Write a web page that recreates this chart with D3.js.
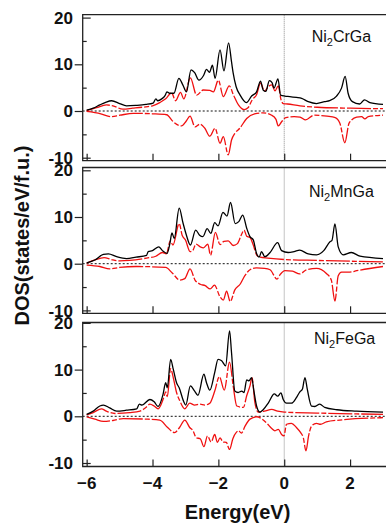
<!DOCTYPE html>
<html><head><meta charset="utf-8">
<script src="https://cdn.jsdelivr.net/npm/d3@7"></script>
<style>html,body{margin:0;padding:0;background:#fff;} svg{display:block;}</style>
</head><body><svg id="c" width="386" height="524"></svg>
<script>
// ---------------- data (energy eV, DOS states/eV/f.u.) ----------------
const energyTicks = [-6, -4, -2, 0, 2];
const dosLabelTicks = [20, 10, 0, -10];
const dosOutTicks = [10, 0];
const dosInTicks = [20, -10];
const dosMinorTicks = [15, 5, -5];
const compoundBase = "Ni";
const compoundSub = "2";
const compoundRest = ["CrGa", "MnGa", "FeGa"];
const xLabel = "Energy(eV)";
const yLabel = "DOS(states/eV/f.u.)";

const crTotalUp = [[-6.0,0.2],[-5.8,0.6],[-5.6,1.3],[-5.44,1.8],[-5.24,2.2],[-5.0,1.6],[-4.79,1.1],[-4.5,1.2],[-4.2,1.4],[-3.98,1.7],[-3.9,2.6],[-3.84,2.2],[-3.72,2.6],[-3.62,3.3],[-3.56,4.1],[-3.48,3.8],[-3.35,3.8],[-3.2,7.0],[-3.08,5.6],[-2.97,4.1],[-2.83,8.8],[-2.72,8.2],[-2.59,6.6],[-2.45,7.6],[-2.36,8.9],[-2.27,8.3],[-2.18,9.8],[-2.1,7.0],[-1.95,13.1],[-1.83,8.6],[-1.69,14.6],[-1.6,10.5],[-1.55,8.1],[-1.46,5.2],[-1.34,3.4],[-1.15,1.8],[-0.99,3.2],[-0.84,4.1],[-0.72,6.4],[-0.64,4.5],[-0.56,4.2],[-0.45,6.5],[-0.37,6.1],[-0.31,4.9],[-0.19,6.9],[-0.11,3.4],[0.02,3.2],[0.17,3.1],[0.37,2.9],[0.53,2.7],[0.73,2.0],[0.98,1.6],[1.23,2.0],[1.38,2.2],[1.59,3.2],[1.74,4.9],[1.85,7.4],[1.94,3.8],[2.07,2.0],[2.29,1.5],[2.44,2.4],[2.6,1.8],[3.0,1.4]];
const crPartUp = [[-6.0,0.1],[-5.7,0.7],[-5.4,1.3],[-5.2,1.1],[-4.9,0.4],[-4.6,0.6],[-4.2,0.9],[-4.0,1.1],[-3.78,1.8],[-3.6,2.6],[-3.42,3.9],[-3.3,2.2],[-3.15,4.0],[-3.05,2.6],[-2.85,7.1],[-2.66,3.4],[-2.46,4.5],[-2.26,4.4],[-2.15,4.1],[-2.0,6.6],[-1.85,3.1],[-1.67,5.4],[-1.54,3.4],[-1.39,1.3],[-1.22,0.3],[-1.1,0.7],[-0.97,2.4],[-0.84,3.5],[-0.72,6.0],[-0.6,4.3],[-0.47,5.3],[-0.38,5.6],[-0.28,4.3],[-0.18,5.4],[-0.1,2.5],[-0.03,1.6],[0.1,1.5],[0.48,1.1],[1.0,0.8],[2.0,0.6],[3.0,0.5]];
const crDown = [[-6.0,-0.1],[-5.57,-0.6],[-5.26,-1.2],[-4.99,-0.9],[-4.58,-0.5],[-4.0,-0.6],[-3.57,-0.8],[-3.37,-2.3],[-3.12,-3.2],[-2.98,-2.2],[-2.86,-1.1],[-2.71,-3.4],[-2.56,-2.8],[-2.41,-3.7],[-2.26,-5.4],[-2.1,-3.7],[-1.95,-6.9],[-1.85,-5.5],[-1.7,-9.4],[-1.6,-6.2],[-1.5,-4.8],[-1.35,-3.7],[-1.14,-1.6],[-0.9,-0.6],[-0.65,-0.4],[-0.38,-0.9],[-0.25,-1.8],[-0.18,-3.2],[-0.08,-2.3],[0.05,-1.4],[0.3,-1.2],[0.48,-1.3],[0.65,-1.9],[0.9,-0.9],[1.3,-1.1],[1.55,-1.4],[1.69,-2.6],[1.84,-6.8],[1.97,-2.6],[2.2,-1.3],[2.35,-1.2],[2.45,-1.7],[2.55,-1.2],[3.0,-0.9]];

const mnTotalUp = [[-6.0,0.2],[-5.75,0.8],[-5.49,2.0],[-5.34,2.1],[-5.09,1.5],[-4.79,1.1],[-4.5,1.4],[-4.18,1.8],[-4.13,2.6],[-4.0,2.8],[-3.81,3.6],[-3.7,2.8],[-3.56,2.2],[-3.47,4.4],[-3.41,6.6],[-3.34,5.4],[-3.19,11.9],[-3.07,8.6],[-2.97,6.1],[-2.85,4.0],[-2.69,7.2],[-2.57,6.1],[-2.47,5.8],[-2.34,7.5],[-2.23,6.5],[-2.11,8.8],[-2.01,8.1],[-1.86,11.0],[-1.74,10.2],[-1.63,13.1],[-1.49,8.6],[-1.38,9.0],[-1.26,10.4],[-1.14,7.6],[-1.04,5.8],[-0.94,5.1],[-0.84,2.2],[-0.76,1.4],[-0.69,2.6],[-0.59,1.5],[-0.43,2.4],[-0.2,4.5],[-0.08,2.8],[0.12,2.4],[0.3,2.6],[0.47,2.9],[0.73,2.1],[0.98,1.9],[1.2,2.8],[1.39,4.7],[1.45,5.0],[1.54,8.5],[1.64,3.6],[1.79,1.9],[2.04,2.4],[2.3,1.6],[3.0,1.1]];
const mnPartUp = [[-6.0,0.1],[-5.75,0.8],[-5.47,1.3],[-5.25,0.9],[-4.99,0.6],[-4.7,0.7],[-4.18,1.2],[-3.9,1.6],[-3.7,2.4],[-3.58,2.1],[-3.46,4.9],[-3.38,4.0],[-3.19,8.6],[-3.1,6.1],[-3.0,5.1],[-2.86,2.6],[-2.78,2.8],[-2.68,4.2],[-2.55,3.6],[-2.45,3.4],[-2.32,4.2],[-2.24,1.8],[-2.09,6.7],[-1.95,4.1],[-1.83,4.8],[-1.7,4.9],[-1.55,3.9],[-1.42,4.3],[-1.3,6.2],[-1.22,7.2],[-1.14,5.9],[-1.04,5.6],[-0.94,4.0],[-0.84,1.9],[-0.74,1.4],[-0.5,1.2],[0.0,0.9],[1.0,0.7],[3.0,0.4]];
const mnDown = [[-6.0,-0.3],[-5.6,-0.6],[-5.3,-1.1],[-5.0,-0.8],[-4.5,-0.6],[-3.6,-0.8],[-3.4,-2.0],[-3.17,-3.5],[-3.02,-3.2],[-2.86,-1.1],[-2.71,-3.5],[-2.55,-4.4],[-2.4,-4.7],[-2.25,-5.4],[-2.12,-4.6],[-1.95,-7.1],[-1.85,-7.8],[-1.75,-5.9],[-1.64,-8.1],[-1.5,-5.6],[-1.34,-4.4],[-1.2,-2.6],[-1.04,-1.3],[-0.84,-0.9],[-0.6,-1.0],[-0.43,-1.3],[-0.22,-3.3],[-0.12,-2.3],[0.02,-1.5],[0.25,-1.6],[0.47,-2.2],[0.68,-1.3],[0.98,-1.0],[1.28,-2.1],[1.43,-3.5],[1.54,-8.0],[1.64,-2.6],[1.74,-1.8],[1.99,-1.8],[2.2,-1.5],[3.0,-0.6]];

const feTotalUp = [[-6.0,0.4],[-5.8,1.1],[-5.6,2.2],[-5.49,2.4],[-5.3,1.8],[-5.09,1.1],[-4.79,1.3],[-4.48,1.6],[-4.4,2.6],[-4.32,2.4],[-4.08,3.6],[-3.95,3.1],[-3.83,2.1],[-3.68,4.7],[-3.6,7.2],[-3.55,6.1],[-3.45,12.2],[-3.37,10.1],[-3.27,7.2],[-3.19,6.1],[-3.05,3.1],[-2.99,2.4],[-2.85,6.5],[-2.72,5.4],[-2.62,4.5],[-2.44,9.0],[-2.36,7.2],[-2.26,5.6],[-2.11,9.4],[-2.01,12.2],[-1.9,11.9],[-1.78,10.8],[-1.66,18.3],[-1.6,13.6],[-1.5,5.4],[-1.4,5.1],[-1.29,5.4],[-1.22,5.1],[-1.14,7.8],[-1.07,7.6],[-0.99,8.3],[-0.92,5.4],[-0.84,2.2],[-0.74,0.9],[-0.64,1.4],[-0.48,2.9],[-0.3,4.8],[-0.2,4.3],[-0.1,5.0],[-0.03,3.6],[0.07,2.8],[0.22,2.8],[0.37,4.0],[0.47,5.2],[0.55,5.8],[0.63,8.3],[0.7,5.8],[0.83,2.2],[0.93,2.1],[1.08,2.6],[1.23,1.9],[1.6,1.4],[2.2,1.1],[3.0,0.9]];
const fePartUp = [[-6.0,0.3],[-5.8,0.8],[-5.55,1.6],[-5.4,1.1],[-5.14,0.6],[-4.7,0.8],[-4.38,1.1],[-4.2,1.9],[-4.08,2.6],[-3.95,2.2],[-3.83,1.6],[-3.66,4.0],[-3.6,5.2],[-3.55,4.2],[-3.45,10.2],[-3.37,8.3],[-3.27,5.1],[-3.17,3.3],[-3.02,1.6],[-2.87,2.8],[-2.72,2.4],[-2.56,2.6],[-2.41,2.4],[-2.26,2.8],[-2.11,5.4],[-1.97,8.5],[-1.82,5.6],[-1.66,11.6],[-1.55,6.5],[-1.44,2.2],[-1.24,1.9],[-1.14,4.4],[-1.04,6.5],[-0.98,8.3],[-0.89,2.9],[-0.79,0.9],[-0.6,1.1],[-0.38,1.5],[-0.2,1.1],[0.0,0.9],[1.0,0.7],[3.0,0.4]];
const feDown = [[-6.0,-0.1],[-5.75,-0.6],[-5.49,-1.1],[-5.2,-0.9],[-4.89,-0.5],[-4.2,-0.6],[-3.78,-0.8],[-3.54,-2.4],[-3.33,-3.5],[-3.18,-2.4],[-3.02,-0.8],[-2.87,-2.4],[-2.77,-3.1],[-2.67,-4.6],[-2.55,-4.8],[-2.44,-6.5],[-2.33,-4.2],[-2.22,-5.5],[-2.11,-3.9],[-2.03,-5.6],[-1.95,-4.6],[-1.86,-5.5],[-1.76,-5.6],[-1.66,-7.1],[-1.56,-4.8],[-1.45,-3.4],[-1.39,-3.1],[-1.3,-3.6],[-1.19,-2.1],[-1.04,-0.6],[-0.84,-0.1],[-0.69,-0.5],[-0.54,-1.4],[-0.38,-2.6],[-0.28,-3.1],[-0.18,-2.8],[-0.08,-3.9],[-0.01,-4.2],[0.07,-1.7],[0.22,-1.5],[0.37,-2.4],[0.5,-3.5],[0.58,-4.6],[0.66,-7.4],[0.74,-4.2],[0.83,-2.1],[0.98,-1.5],[1.1,-1.7],[1.28,-1.2],[1.69,-0.8],[3.0,-0.3]];

const panelSeries = [
  {total: crTotalUp, part: crPartUp, down: crDown},
  {total: mnTotalUp, part: mnPartUp, down: mnDown},
  {total: feTotalUp, part: fePartUp, down: feDown}
];

// ---------------- layout ----------------
const W = 386, H = 524;
const frames = [
  {top: 14.7, bottom: 160.7, zero: 111.0, lx: 311.7, ly: 41.7},
  {top: 167.5, bottom: 313.3, zero: 263.7, lx: 309.0, ly: 196.5},
  {top: 322.5, bottom: 466.5, zero: 416.3, lx: 314.0, ly: 344.0}
];
const pxPer10 = 46.7;
const plotLeft = 82.7;
const plotRight = 386.3;
const axisColor = "#222";
const boldFont = "'Liberation Sans', Arial, Helvetica, sans-serif";
const redDash = "24,2,5,2";

const svg = d3.select("#c");
const x = d3.scaleLinear().domain([-6.12, 3.1]).range([plotLeft, plotRight]);

frames.forEach((f, i) => {
  const y = d3.scaleLinear().domain([0, 10]).range([f.zero, f.zero - pxPer10]);
  const g = svg.append("g");
  const clipId = "clip" + i;
  svg.append("clipPath").attr("id", clipId).append("rect")
    .attr("x", plotLeft).attr("y", f.top).attr("width", W - plotLeft + 5).attr("height", f.bottom - f.top);

  // zero line
  g.append("line").attr("x1", plotLeft).attr("x2", W + 2)
    .attr("y1", y(0)).attr("y2", y(0))
    .attr("stroke", "#111").attr("stroke-width", 1).attr("stroke-dasharray", "2,2");
  // Fermi level
  g.append("line").attr("x1", x(0)).attr("x2", x(0))
    .attr("y1", f.top).attr("y2", f.bottom)
    .attr("stroke", "#888").attr("stroke-width", 1).attr("stroke-dasharray", "1,1");

  const line = d3.line().x(d => x(d[0])).y(d => y(d[1])).curve(d3.curveMonotoneX);
  const s = panelSeries[i];
  const lg = g.append("g").attr("clip-path", `url(#${clipId})`);
  lg.append("path").attr("d", line(s.down)).attr("fill", "none")
    .attr("stroke", "#f01010").attr("stroke-width", 1.3).attr("stroke-dasharray", redDash);
  lg.append("path").attr("d", line(s.part)).attr("fill", "none")
    .attr("stroke", "#f01010").attr("stroke-width", 1.3).attr("stroke-dasharray", redDash);
  lg.append("path").attr("d", line(s.total)).attr("fill", "none")
    .attr("stroke", "#000").attr("stroke-width", 1.3);

  // frame
  g.append("path").attr("d", `M${W + 3},${f.top}H${plotLeft}V${f.bottom}H${W + 3}`)
    .attr("fill", "none").attr("stroke", axisColor).attr("stroke-width", 1.3);

  // x ticks (inward)
  const ax = d3.axisBottom(x).tickValues(energyTicks).tickSize(-7).tickFormat("");
  const axg = g.append("g").attr("transform", `translate(0,${f.bottom})`).call(ax);
  axg.select(".domain").remove();
  axg.selectAll("line").attr("stroke", axisColor).attr("stroke-width", 1.2);

  // y ticks
  const mkY = (vals, size) => {
    const a = d3.axisLeft(y).tickValues(vals).tickSize(size).tickFormat("");
    const gg = g.append("g").attr("transform", `translate(${plotLeft},0)`).call(a);
    gg.select(".domain").remove();
    gg.selectAll("line").attr("stroke", axisColor).attr("stroke-width", 1.2);
  };
  mkY(dosOutTicks, 8);
  mkY(dosInTicks, -8);
  mkY(dosMinorTicks, -4);

  // y tick labels
  g.selectAll("text.yl").data(dosLabelTicks).enter().append("text")
    .attr("class", "yl")
    .attr("x", 73).attr("y", d => y(d)).attr("dy", "0.36em")
    .attr("text-anchor", "end")
    .attr("font-family", boldFont).attr("font-weight", "bold").attr("font-size", 17)
    .attr("fill", "#111")
    .text(d => d < 0 ? "-" + Math.abs(d) : String(d));

  // compound label
  const t = g.append("text").attr("x", f.lx).attr("y", f.ly)
    .attr("font-family", boldFont).attr("font-size", 16).attr("fill", "#111");
  t.append("tspan").text(compoundBase);
  t.append("tspan").attr("font-size", 11).attr("dy", 4).text(compoundSub);
  t.append("tspan").attr("dy", -4).text(compoundRest[i]);

  if (i === frames.length - 1) {
    g.selectAll("text.xl").data(energyTicks).enter().append("text")
      .attr("class", "xl")
      .attr("x", d => x(d)).attr("y", 489)
      .attr("text-anchor", "middle")
      .attr("font-family", boldFont).attr("font-weight", "bold").attr("font-size", 17)
      .attr("fill", "#111")
      .text(d => d < 0 ? "\u2212" + Math.abs(d) : String(d));
  }
});

svg.append("text").attr("x", 237.5).attr("y", 519)
  .attr("text-anchor", "middle")
  .attr("font-family", boldFont).attr("font-weight", "bold").attr("font-size", 20)
  .attr("fill", "#111").text(xLabel);

svg.append("text").attr("transform", "translate(29,235.5) rotate(-90)")
  .attr("text-anchor", "middle")
  .attr("font-family", boldFont).attr("font-weight", "bold").attr("font-size", 20)
  .attr("fill", "#111").text(yLabel);
</script>
</body></html>
